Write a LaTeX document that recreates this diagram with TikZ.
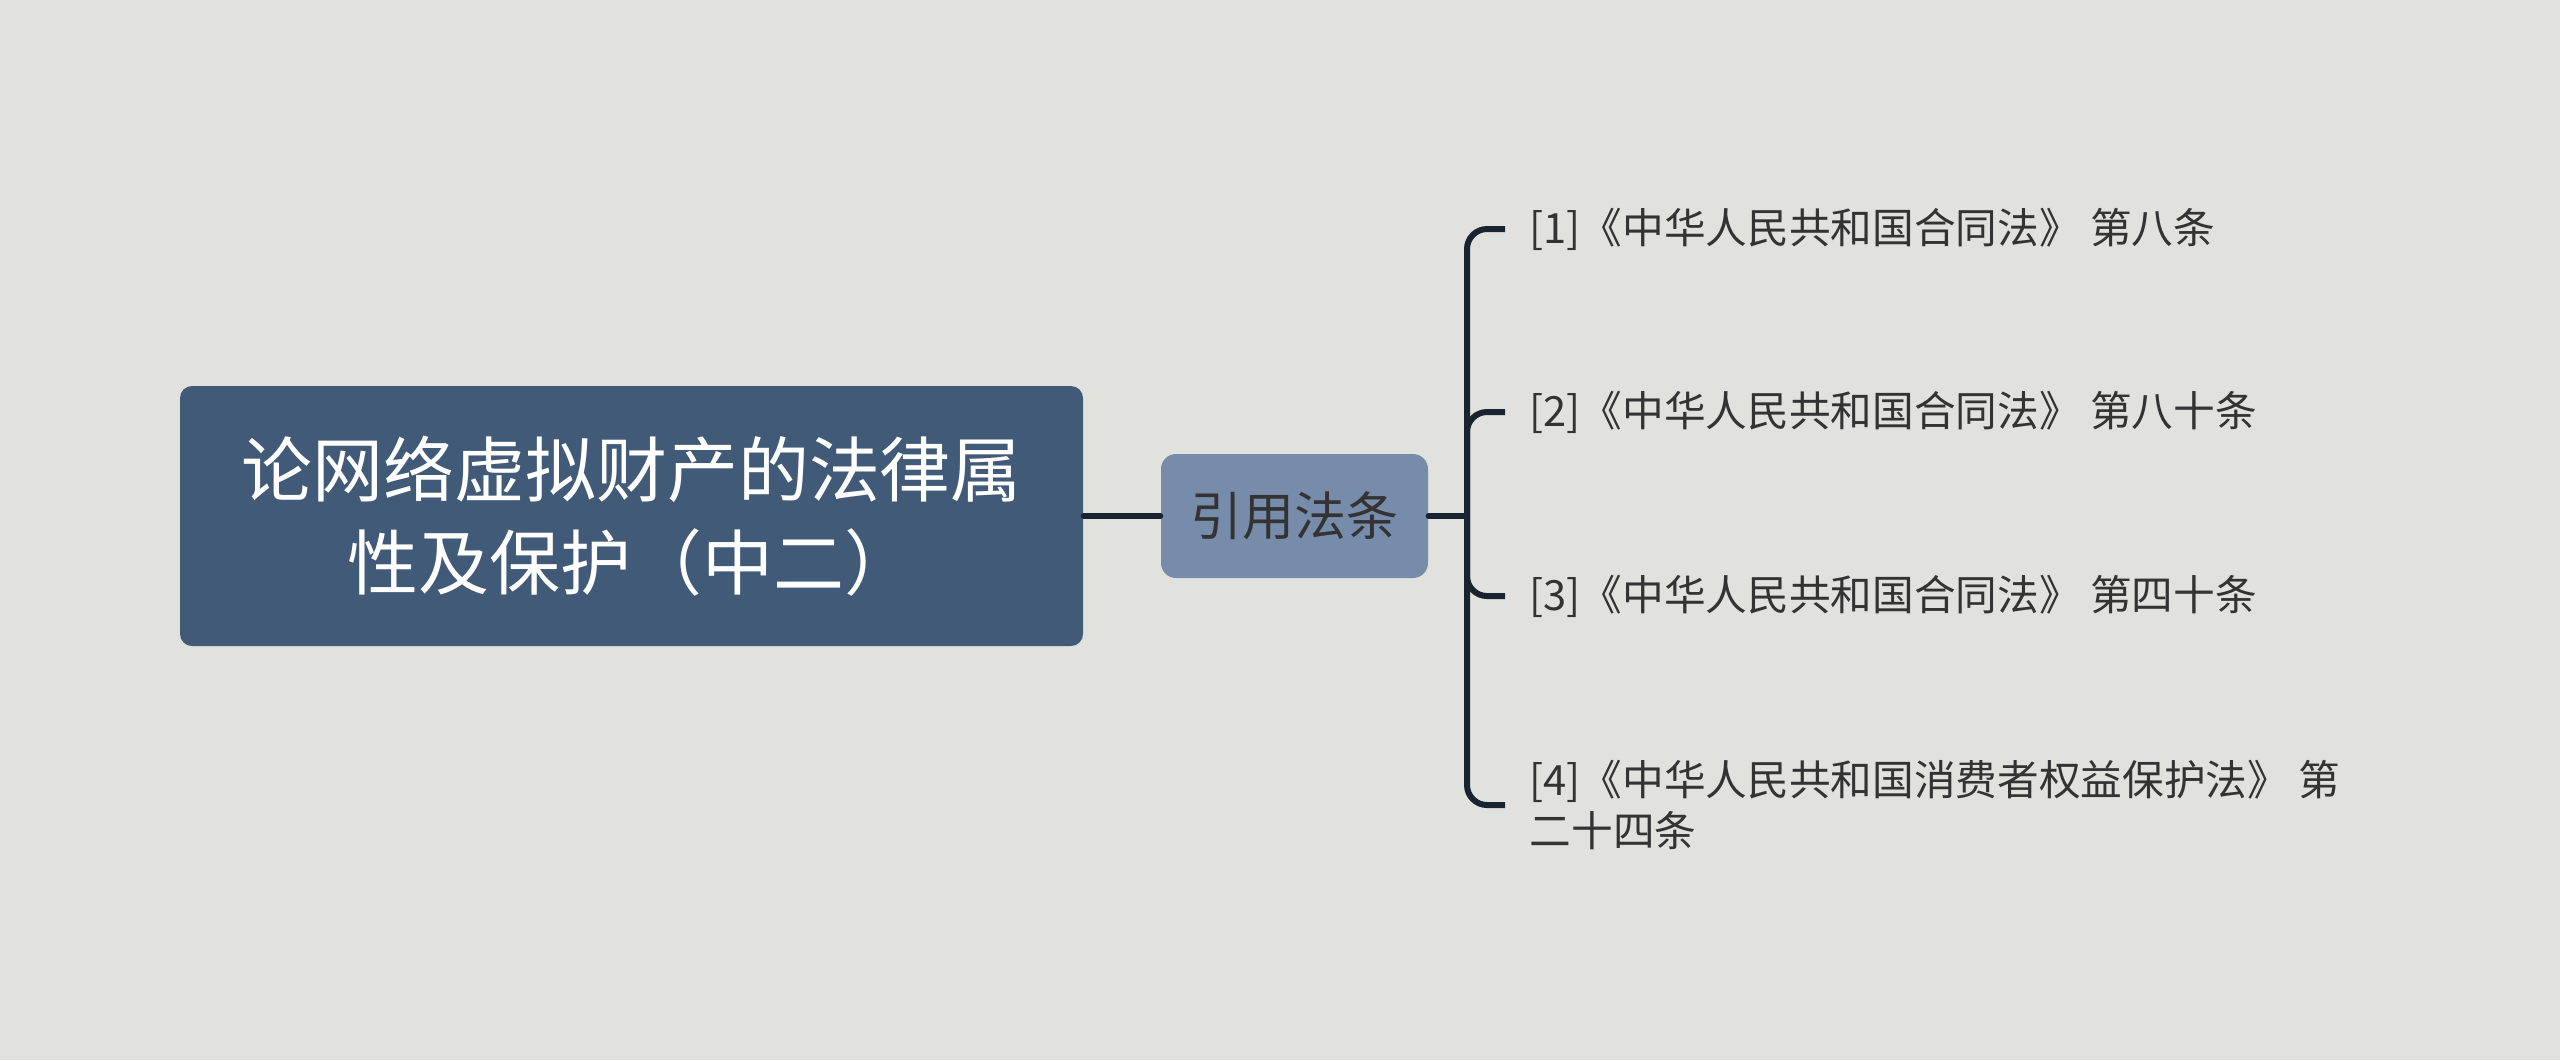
\documentclass[tikz,border=0pt]{standalone}
\usepackage{fontspec}
\setmainfont{Noto Sans CJK SC}
\usepackage{tikz}
\usetikzlibrary{positioning}
\definecolor{bgcol}{HTML}{E1E2DD}
\definecolor{rootcol}{HTML}{415A78}
\definecolor{subcol}{HTML}{778CAB}
\definecolor{linecol}{HTML}{1B2331}
\definecolor{txtcol}{HTML}{333333}

\begin{document}
\begin{tikzpicture}[x=0.3pt,y=-0.3pt,line cap=round,line join=round,
  rootbox/.style={fill=rootcol,rounded corners=3.6pt,text=white,align=center,
    minimum width=270.9pt,minimum height=78pt,inner sep=0pt,
    font=\fontsize{21.3pt}{28pt}\selectfont},
  subbox/.style={fill=subcol,rounded corners=4.5pt,text=txtcol,
    minimum width=80.1pt,minimum height=37.2pt,inner sep=0pt,
    font=\fontsize{15.6pt}{18pt}\selectfont},
  leaf/.style={anchor=west,text=txtcol,align=left,inner xsep=7.2pt,inner ysep=0pt,
    font=\fontsize{12.5pt}{15.3pt}\selectfont},
  link/.style={draw=linecol,line width=1.8pt}]
\useasboundingbox[fill=bgcol] (0,0) rectangle (2560,1060);
% nodes
\node[rootbox] (root) at (631.5,516) {论网络虚拟财产的法律属\\性及保护（中二）};
\node[subbox] (laws) at (1294.5,516) {引用法条};
\coordinate (fork) at (1467,516);
\node[leaf] (l1) at (1505,229) {[1]《中华人民共和国合同法》 第八条};
\node[leaf] (l2) at (1505,412) {[2]《中华人民共和国合同法》 第八十条};
\node[leaf] (l3) at (1505,596) {[3]《中华人民共和国合同法》 第四十条};
\node[leaf] (l4) at (1505,805) {[4]《中华人民共和国消费者权益保护法》 第\\二十四条};
% connectors
\draw[link] (root) -- (laws);
\draw[link] (laws) -- (fork);
\foreach \n in {l1,l2,l3,l4}
  \draw[link,rounded corners=6pt,line cap=butt] (fork) |- (\n.west);
\end{tikzpicture}
\end{document}
